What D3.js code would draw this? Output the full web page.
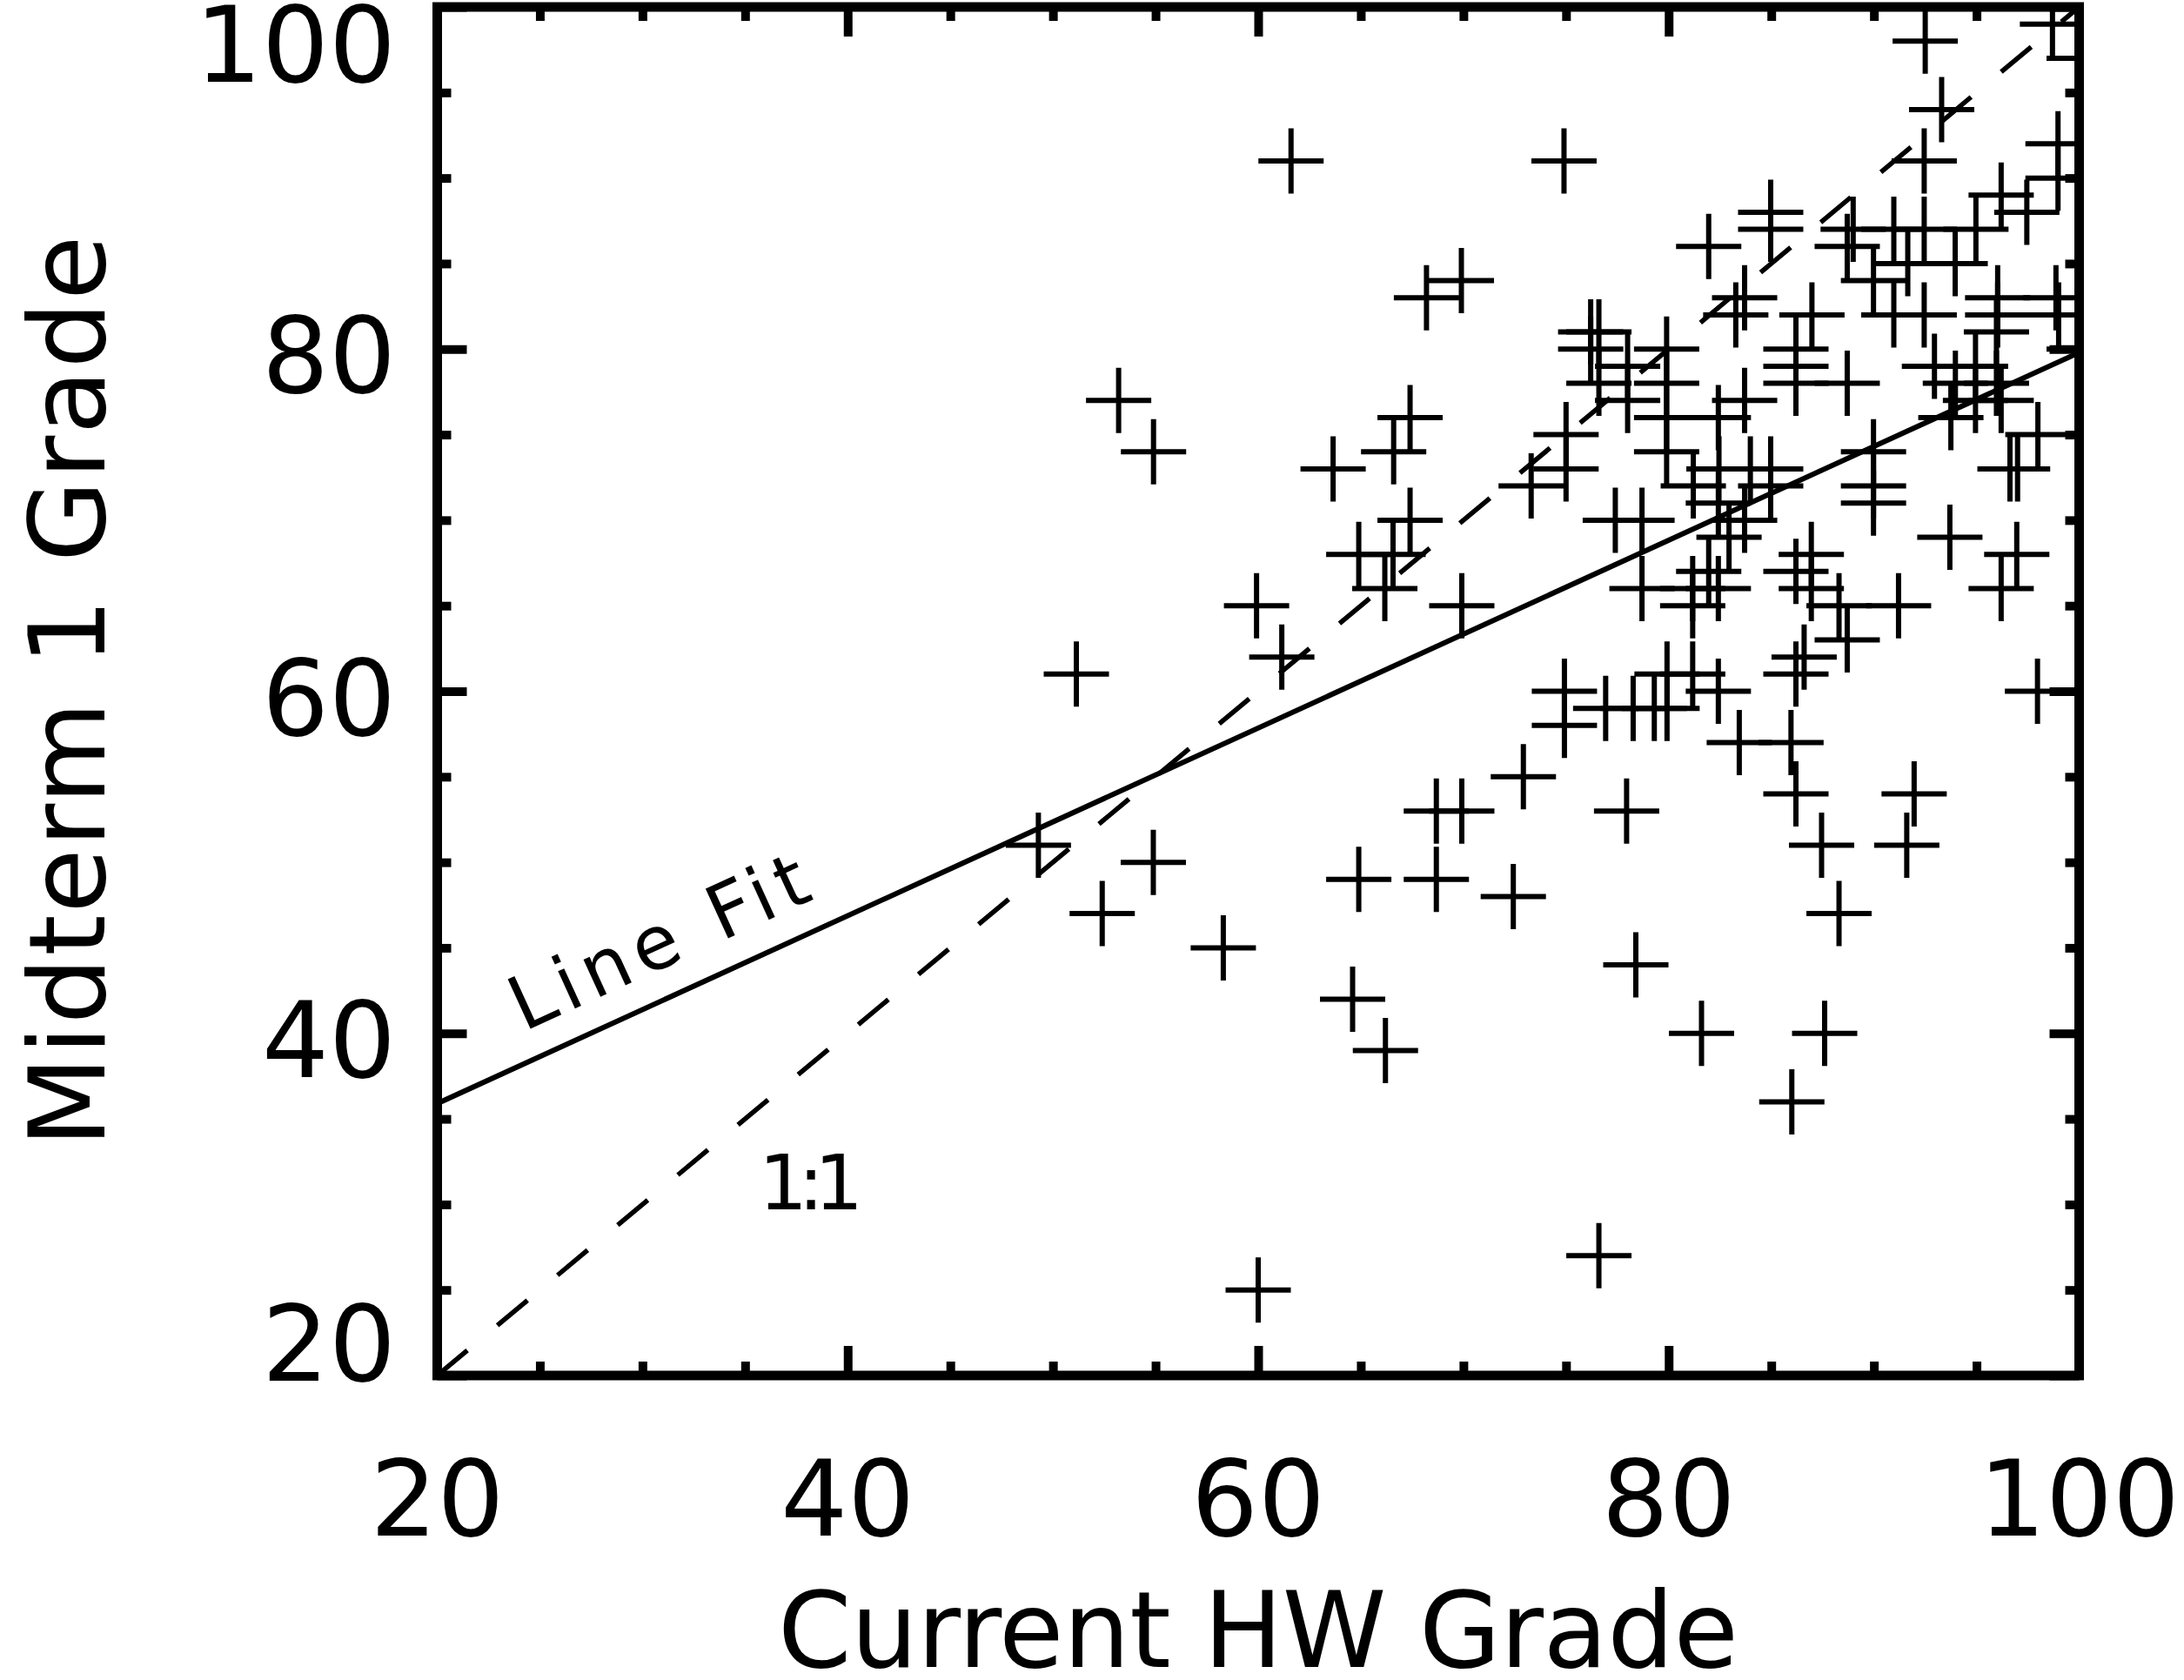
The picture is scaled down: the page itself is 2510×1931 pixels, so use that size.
<!DOCTYPE html>
<html><head><meta charset="utf-8">
<script src="https://cdn.jsdelivr.net/npm/d3@7"></script>
<style>html,body{margin:0;padding:0;background:#fff}svg{display:block}</style>
</head><body>
<script>
// ---- data ----
const hwGrade = [92.5,93.3,98.7,100,92.45,98.97,98.97,96.2,97.45,94.97,90.97,92.45,88.99,88.7,93.96,91.65,89.98,83.7,81.95,84.97,84.97,83.27,86.98,90.97,92.45,86.2,86.2,86.2,88.7,83.7,82.42,96.03,96.03,95.97,98.87,99.0,100,92.95,94.95,94.95,96.2,93.97,95.97,93.75,97.99,96.63,97.0,89.98,89.98,89.98,83.98,84.97,82.45,82.42,84.97,
76.2,76.6,76.2,76.6,78.0,78.0,79.9,79.9,79.9,79.9,81.2,75.0,75.0,73.3,67.4,66.6,67.4,77.4,78.7,74.9,68.2,69.9,
61.6,53.2,54.9,63.65,
93.7,96.96,96.2,86.95,86.95,86.2,88.3,91.2,88.7,86.6,86.2,82.42,82.42,82.94,83.7,81.95,83.44,85.96,86.2,91.96,87.45,91.6,88.3,97.97,
69.92,66.17,64.9,66.57,78.7,81.17,81.17,74.92,74.92,76.93,78.27,79.3,79.92,79.92,81.17,72.92,68.68,69.92,77.95,64.9,68.68,72.43,
59.92,61.15,51.14,49.29,54.89,52.4,
60.0,76.6,86.0,66.2,64.6,81.6,87.6,78.4,58.3];
const midterm = [98,94,99,97,91,92,90,89,88,87,87,87,87,86,85,85,84,83,86,88,87,82,82,82,82,80,79,78,78,77,76,83,82,81,83,82,80,79,79,77,77,78,78,76,75,73,73,74,72,71,73,73,73,71,72,
81,81,80,78,79,77,80,78,76,74,72,75,73,72,76,74,70,70,70,91,83,84,
91,77,74,73,
69,68,66,68,66,67,65,65,63,62,61,60,66,69,70,67,57,57,54,54,51,51,47,60,
65,66,68,68,66,65,66,60,58,59,59,59,61,59,61,55,53,53,53,49,49,48,
65,62,61,51,50,47,
25,27,36,39,42,40,40,44,45];
const xTickValues = [20,40,60,80,100];
const yTickValues = [20,40,60,80,100];
const xMinorTicks = [25,30,35,45,50,55,65,70,75,85,90,95];
const yMinorTicks = [25,30,35,45,50,55,65,70,75,85,90,95];
const fitLineX = [20,100];
const fitLineY = [35.9,79.8];
const unityX = [20,100];
const unityY = [20,100];
const xTitle = "Current HW Grade";
const yTitle = "Midterm 1 Grade";
const fitLabel = "Line Fit";
const unityLabel = "1:1";

// ---- layout ----
const W = 2510, H = 1931;
const pL = 502.5, pR = 2389.5, pT = 8, pB = 1581;
const FONT = "DejaVu Sans";

const x = d3.scaleLinear().domain([20,100]).range([pL,pR]);
const y = d3.scaleLinear().domain([20,100]).range([pB,pT]);

const svg = d3.select("body").append("svg").attr("width",W).attr("height",H)
  .attr("viewBox",`0 0 ${W} ${H}`);
svg.append("rect").attr("width",W).attr("height",H).attr("fill","#fff");

svg.append("clipPath").attr("id","plotclip").append("rect")
  .attr("x",pL).attr("y",pT).attr("width",pR-pL).attr("height",pB-pT);

const plot = svg.append("g").attr("clip-path","url(#plotclip)");

// points (plus symbols)
const half = 37.5;
plot.append("g").selectAll("path").data(hwGrade.map((v,i)=>[v,midterm[i]])).join("path")
  .attr("d", d => {const px=x(d[0]), py=y(d[1]);
    return `M${px-half},${py}H${px+half}M${px},${py-half}V${py+half}`;})
  .attr("stroke","#000").attr("stroke-width",6).attr("fill","none");

// fit line
const line = d3.line().x(d=>x(d[0])).y(d=>y(d[1]));
plot.append("path").datum(fitLineX.map((v,i)=>[v,fitLineY[i]])).attr("d",line)
  .attr("stroke","#000").attr("stroke-width",6).attr("fill","none");
// 1:1 line
plot.append("path").datum(unityX.map((v,i)=>[v,unityY[i]])).attr("d",line)
  .attr("stroke","#000").attr("stroke-width",5.5).attr("fill","none")
  .attr("stroke-dasharray","45,45");

// ticks on all four sides
function ticks(axisFn, scale, vals, len, tr){
  const g = svg.append("g").attr("transform",tr)
    .call(axisFn(scale).tickValues(vals).tickSize(len).tickFormat(""));
  g.select(".domain").remove();
  g.selectAll(".tick line").attr("stroke","#000").attr("stroke-width",10);
}
const MAJ = 34, MIN = 16;
ticks(d3.axisBottom, x, xTickValues, -MAJ, `translate(0,${pB})`);
ticks(d3.axisBottom, x, xMinorTicks, -MIN, `translate(0,${pB})`);
ticks(d3.axisTop, x, xTickValues, -MAJ, `translate(0,${pT})`);
ticks(d3.axisTop, x, xMinorTicks, -MIN, `translate(0,${pT})`);
ticks(d3.axisLeft, y, yTickValues, -MAJ, `translate(${pL},0)`);
ticks(d3.axisLeft, y, yMinorTicks, -MIN, `translate(${pL},0)`);
ticks(d3.axisRight, y, yTickValues, -MAJ, `translate(${pR},0)`);
ticks(d3.axisRight, y, yMinorTicks, -MIN, `translate(${pR},0)`);

// frame
svg.append("rect").attr("x",pL).attr("y",pT).attr("width",pR-pL).attr("height",pB-pT)
  .attr("fill","none").attr("stroke","#000").attr("stroke-width",11);

// tick labels
const LBL = 121;
svg.append("g").selectAll("text").data(xTickValues).join("text")
  .attr("x",d=>x(d)).attr("y",1765).attr("text-anchor","middle")
  .attr("font-family",FONT).attr("font-size",LBL).text(d=>d);
svg.append("g").selectAll("text").data(yTickValues).join("text")
  .attr("x",455).attr("y",d=>Math.min(Math.max(y(d)+50, 94), 1587)).attr("text-anchor","end")
  .attr("font-family",FONT).attr("font-size",LBL).text(d=>d);

// axis titles
svg.append("text").attr("x",(pL+pR)/2 - 552).attr("y",1916)
  .attr("font-family",FONT).attr("font-size",121)
  .attr("textLength",1104).attr("lengthAdjust","spacing").text(xTitle);
svg.append("text").attr("transform",`translate(120,${(pT+pB)/2}) rotate(-90)`)
  .attr("x",-524).attr("y",0)
  .attr("font-family",FONT).attr("font-size",121)
  .attr("textLength",1048).attr("lengthAdjust","spacing").text(yTitle);

// line labels
const ang = Math.atan2(y(fitLineY[1])-y(fitLineY[0]), x(fitLineX[1])-x(fitLineX[0]))*180/Math.PI;
svg.append("text").attr("transform",`translate(602,1186) rotate(${ang})`)
  .attr("font-family",FONT).attr("font-size",86)
  .attr("textLength",368).attr("lengthAdjust","spacing").text(fitLabel);
svg.append("text").attr("x",872).attr("y",1390)
  .attr("font-family",FONT).attr("font-size",88)
  .attr("textLength",120).attr("lengthAdjust","spacing").text(unityLabel);
</script>
</body></html>
